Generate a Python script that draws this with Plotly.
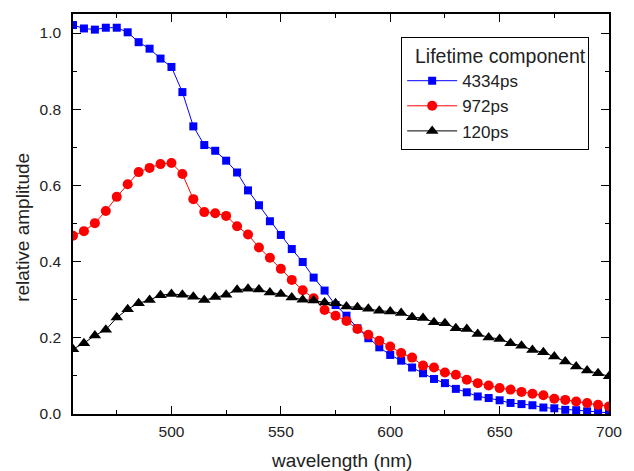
import plotly.graph_objects as go

wavelength = list(range(455, 701, 5))

amp_4334ps = [1.021, 1.012, 1.009, 1.014, 1.014, 1.002, 0.976, 0.959, 0.933, 0.911,
              0.845, 0.755, 0.706, 0.691, 0.665, 0.634, 0.587, 0.548, 0.506, 0.470,
              0.433, 0.399, 0.358, 0.324, 0.286, 0.258, 0.225, 0.199, 0.175, 0.155,
              0.140, 0.122, 0.107, 0.092, 0.081, 0.066, 0.057, 0.046, 0.042, 0.036,
              0.029, 0.026, 0.023, 0.017, 0.015, 0.011, 0.010, 0.007, 0.005, 0.003]

amp_972ps = [0.468, 0.480, 0.501, 0.533, 0.570, 0.603, 0.635, 0.646, 0.656, 0.659,
             0.630, 0.564, 0.530, 0.527, 0.520, 0.493, 0.471, 0.437, 0.410, 0.381,
             0.352, 0.325, 0.304, 0.273, 0.258, 0.244, 0.223, 0.208, 0.192, 0.177,
             0.160, 0.148, 0.127, 0.122, 0.109, 0.103, 0.090, 0.081, 0.075, 0.068,
             0.064, 0.058, 0.053, 0.049, 0.040, 0.037, 0.033, 0.029, 0.024, 0.020]

amp_120ps = [0.170, 0.186, 0.206, 0.221, 0.253, 0.275, 0.291, 0.299, 0.312, 0.315,
             0.313, 0.308, 0.299, 0.307, 0.313, 0.326, 0.329, 0.327, 0.319, 0.315,
             0.306, 0.300, 0.298, 0.293, 0.291, 0.282, 0.280, 0.276, 0.271, 0.269,
             0.265, 0.254, 0.252, 0.241, 0.238, 0.225, 0.223, 0.210, 0.201, 0.197,
             0.186, 0.179, 0.168, 0.162, 0.151, 0.138, 0.125, 0.114, 0.107, 0.099]

series_names = ["4334ps", "972ps", "120ps"]
x_tick_vals = [500, 550, 600, 650, 700]
y_tick_vals = [0.0, 0.2, 0.4, 0.6, 0.8, 1.0]

FONT = "Arial, Liberation Sans, sans-serif"
TXT = "#222"

fig = go.Figure()
styles = [
    (amp_4334ps, "#0000ff", "square", 8),
    (amp_972ps, "#ff0000", "circle", 10),
    (amp_120ps, "#000000", "triangle-up", 11),
]
for name, (vals, color, sym, size) in zip(series_names, styles):
    fig.add_trace(go.Scatter(
        x=wavelength, y=vals, name=name, mode="lines+markers",
        line=dict(color=color, width=1),
        marker=dict(symbol=sym, size=size, color=color, line=dict(width=0)),
        cliponaxis=True,
    ))

axis_common = dict(
    showline=True, linecolor="black", linewidth=1.5, mirror="ticks",
    ticks="inside", ticklen=8, tickwidth=1, tickcolor="black",
    showgrid=False, zeroline=False,
    tickfont=dict(family=FONT, size=15.5, color=TXT),
)

fig.update_layout(
    width=634, height=471,
    margin=dict(l=73, r=15, t=13, b=57),
    paper_bgcolor="white", plot_bgcolor="white",
    font=dict(family=FONT, color=TXT),
    xaxis=dict(
        range=[455, 700], tickvals=x_tick_vals,
        ticktext=[str(v) for v in x_tick_vals],
        minor=dict(dtick=25, tick0=475, ticks="inside", ticklen=4, tickcolor="black", showgrid=False),
        ticklabelstandoff=3,
        **axis_common,
    ),
    yaxis=dict(
        range=[0, 1.05], tickvals=y_tick_vals,
        ticktext=[f"{v:.1f}" for v in y_tick_vals],
        minor=dict(dtick=0.1, tick0=0.1, ticks="inside", ticklen=4, tickcolor="black", showgrid=False),
        ticklabelstandoff=7,
        **axis_common,
    ),
    legend=dict(
        title=dict(text="\u00a0\u00a0Lifetime component", font=dict(family=FONT, size=19.5, color=TXT)),
        font=dict(family=FONT, size=17, color=TXT),
        x=0.963, xanchor="right", y=0.943, yanchor="top",
        bgcolor="white", bordercolor="black", borderwidth=1,
        itemwidth=50, tracegroupgap=0,
    ),
    showlegend=True,
    annotations=[
        dict(text="wavelength (nm)", xref="paper", yref="paper", x=0.5, y=-0.117,
             xanchor="center", yanchor="middle", showarrow=False,
             font=dict(family=FONT, size=19, color=TXT)),
        dict(text="relative amplitude", xref="paper", yref="paper", x=-0.094, y=0.467,
             xanchor="center", yanchor="middle", showarrow=False, textangle=-90,
             font=dict(family=FONT, size=19, color=TXT)),
    ],
)

fig.write_html(
    "out.html",
    config={"displayModeBar": False},
    post_script="document.body.style.margin='0';document.body.style.padding='0';document.body.style.overflow='hidden';",
)
